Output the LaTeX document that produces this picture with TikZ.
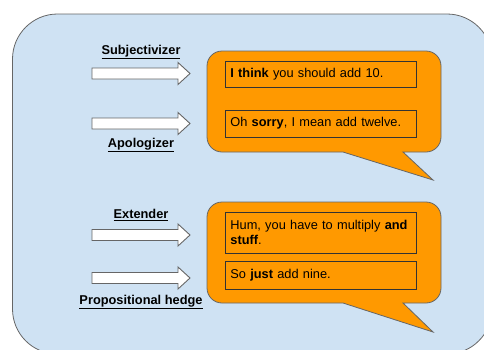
\documentclass[tikz,border=0pt]{standalone}
\usepackage{fontspec}
\setmainfont{Liberation Sans}
\usepackage{tikz}
\usetikzlibrary{positioning}

\definecolor{panelblue}{HTML}{CFE2F3}
\definecolor{bubbleorange}{HTML}{FF9900}
\definecolor{edgegray}{HTML}{666666}

\begin{document}
\begin{tikzpicture}[x=1pt,y=-1pt, every node/.append style={font=\fontsize{12.8}{15}\selectfont},
                    bubble/.style={fill=bubbleorange,draw=edgegray,line width=0.8pt},
                    phrase/.style={draw=black!80,line width=0.8pt,anchor=west,text width=181pt,
                                   inner sep=5pt,align=left},
                    hedgearrow/.style={fill=white,draw=edgegray,line width=0.9pt},
                    hedgelabel/.style={font=\fontsize{12.8}{15}\selectfont\bfseries}]

\useasboundingbox (0,0) rectangle (484,349);
\draw[fill=panelblue,draw=edgegray,line width=0.8pt,rounded corners=45pt] (12.5,14) rectangle (492,354);

% speech bubbles
\draw[bubble] (343,152) -- (433,180) -- (403,152) -- (420,152) [rounded corners=15pt]
   -- (441,152) -- (441,51) -- (207,51) -- (207,152) -- (320,152) [sharp corners] -- cycle;
\draw[bubble] (343,303) -- (433,332) -- (403,303) -- (420,303) [rounded corners=15pt]
   -- (441,303) -- (441,202) -- (207,202) -- (207,303) -- (320,303) [sharp corners] -- cycle;

\node[phrase,minimum height=26pt] (p1) at (225,74) {\textbf{I think} you should add 10.};
\node[phrase,minimum height=27pt] (p2) at (225,123.5) {Oh \textbf{sorry}, I mean add twelve.};
\node[phrase,minimum height=41pt] (p3) at (225,232.5) {Hum, you have to multiply \textbf{and}\\ \textbf{stuff}.};
\node[phrase,minimum height=28pt] (p4) at (225,275) {So \textbf{just} add nine.};

% arrows
\foreach \c in {73.5,123.5,235,278}
  \draw[hedgearrow] (92,\c-5.5) -- (178,\c-5.5) -- (178,\c-11) -- (190,\c)
     -- (178,\c+11) -- (178,\c+5.5) -- (92,\c+5.5) -- cycle;

\node[hedgelabel] (subj) at (141,52) {\underline{Subjectivizer}};
\node[hedgelabel] (apol) at (141,145) {\underline{Apologizer}};
\node[hedgelabel] (ext) at (141,215) {\underline{Extender}};
\node[hedgelabel] (prop) at (141,302) {\underline{Propositional hedge}};

\end{tikzpicture}
\end{document}
